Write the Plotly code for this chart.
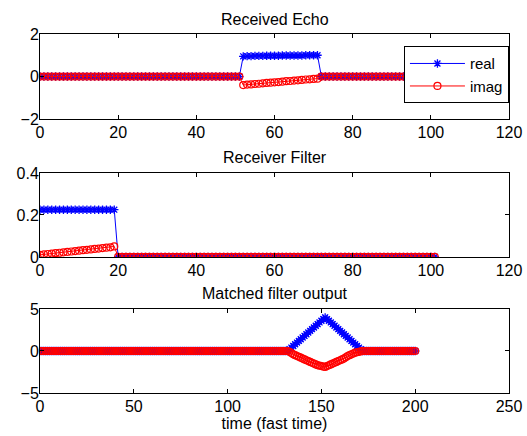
import plotly.graph_objects as go

# ---------------- data ----------------
# Received echo (samples 0..100)
echo_x = list(range(0, 101))
echo_pulse_start = 52
echo_real_pulse = [0.95, 0.96, 0.96, 0.97, 0.97, 0.97, 0.98, 0.98, 0.98, 0.98,
                   0.99, 0.99, 0.99, 0.99, 0.99, 0.99, 1.0, 1.0, 1.0, 1.0]
echo_imag_pulse = [-0.40, -0.38, -0.37, -0.35, -0.34, -0.32, -0.30, -0.29, -0.27, -0.26,
                   -0.24, -0.22, -0.21, -0.19, -0.18, -0.16, -0.14, -0.13, -0.11, -0.10]

# Receiver filter (samples 0..101)
filt_x = list(range(0, 102))
filt_real_pulse = [0.225, 0.225, 0.225, 0.225, 0.225, 0.225, 0.225, 0.225, 0.225, 0.225,
                   0.225, 0.225, 0.225, 0.225, 0.225, 0.225, 0.225, 0.225, 0.225, 0.225]
filt_imag_pulse = [0.010, 0.012, 0.014, 0.016, 0.018, 0.020, 0.022, 0.024, 0.026, 0.028,
                   0.030, 0.032, 0.034, 0.036, 0.038, 0.040, 0.042, 0.044, 0.046, 0.050]

# Matched filter output (samples 0..200)
mf_x = list(range(0, 201))
mf_start = 133
mf_real_part = [0.2, 0.4, 0.6, 0.8, 1.0, 1.2, 1.4, 1.6, 1.8, 2.0,
                2.2, 2.4, 2.6, 2.8, 3.0, 3.2, 3.4, 3.6, 3.8, 4.0,
                3.8, 3.6, 3.4, 3.2, 3.0, 2.8, 2.6, 2.4, 2.2, 2.0,
                1.8, 1.6, 1.4, 1.2, 1.0, 0.8, 0.6, 0.4, 0.2]
mf_imag_part = [-0.1, -0.25, -0.4, -0.5, -0.6, -0.7, -0.8, -0.9, -1.0, -1.1,
                -1.2, -1.3, -1.4, -1.5, -1.6, -1.7, -1.75, -1.8, -1.85, -1.9,
                -1.8, -1.7, -1.6, -1.5, -1.4, -1.3, -1.2, -1.1, -1.0, -0.9,
                -0.75, -0.6, -0.5, -0.4, -0.3, -0.2, -0.15, -0.1, -0.05]


def embed(n, start, part):
    vals = [0.0] * n
    for i, v in enumerate(part):
        vals[start + i] = v
    return vals


echo_real = embed(len(echo_x), echo_pulse_start, echo_real_pulse)
echo_imag = embed(len(echo_x), echo_pulse_start, echo_imag_pulse)
filt_real = embed(len(filt_x), 0, filt_real_pulse)
filt_imag = embed(len(filt_x), 0, filt_imag_pulse)
mf_real = embed(len(mf_x), mf_start, mf_real_part)
mf_imag = embed(len(mf_x), mf_start, mf_imag_part)

BLUE = "#0000ff"
RED = "#ff0000"
FONT = "Liberation Sans, Arial, sans-serif"
FS = 16

fig = go.Figure()


def add_pair(x, re, im, xa, ya, show):
    fig.add_trace(go.Scatter(
        x=x, y=re, mode="lines+markers", name="real", showlegend=show,
        xaxis=xa, yaxis=ya,
        line=dict(color=BLUE, width=1),
        marker=dict(symbol="asterisk-open", size=7, color=BLUE,
                    line=dict(color=BLUE, width=1.3))))
    fig.add_trace(go.Scatter(
        x=x, y=im, mode="lines+markers", name="imag", showlegend=show,
        xaxis=xa, yaxis=ya,
        line=dict(color=RED, width=1),
        marker=dict(symbol="circle-open", size=7, color=RED,
                    line=dict(color=RED, width=1.2))))


add_pair(echo_x, echo_real, echo_imag, "x", "y", True)
add_pair(filt_x, filt_real, filt_imag, "x2", "y2", False)
add_pair(mf_x, mf_real, mf_imag, "x3", "y3", False)

axis_common = dict(
    showline=True, linecolor="black", linewidth=1, mirror="ticks",
    ticks="inside", ticklen=4, tickcolor="black", showgrid=False,
    zeroline=False, automargin=False,
    tickfont=dict(family=FONT, size=FS, color="black"),
)
xcommon = dict(axis_common, ticklabelstandoff=-1)
ycommon = dict(axis_common, ticklabelstandoff=-3)

fig.update_layout(
    width=527, height=436,
    margin=dict(l=40, r=18, t=34, b=43),
    paper_bgcolor="white", plot_bgcolor="white",
    font=dict(family=FONT, size=FS, color="black"),
    xaxis=dict(domain=[0, 1], anchor="y", range=[0, 120], tickvals=[0, 20, 40, 60, 80, 100, 120], **xcommon),
    yaxis=dict(domain=[0.763, 1], anchor="x", range=[-2, 2], tickvals=[-2, 0, 2], **ycommon),
    xaxis2=dict(domain=[0, 1], anchor="y2", range=[0, 120], tickvals=[0, 20, 40, 60, 80, 100, 120], **xcommon),
    yaxis2=dict(domain=[0.379, 0.613], anchor="x2", range=[0, 0.4], tickvals=[0, 0.2, 0.4], **ycommon),
    xaxis3=dict(domain=[0, 1], anchor="y3", range=[0, 250], tickvals=[0, 50, 100, 150, 200, 250],
                title=dict(text="time (fast time)", font=dict(family=FONT, size=FS), standoff=0),
                **xcommon),
    yaxis3=dict(domain=[0, 0.234], anchor="x3", range=[-5, 5], tickvals=[-5, 0, 5], **ycommon),
    legend=dict(x=0.776, y=0.966, xanchor="left", yanchor="top",
                bgcolor="white", bordercolor="black", borderwidth=1,
                font=dict(family=FONT, size=15), tracegroupgap=0, itemwidth=55),
    showlegend=True,
    annotations=[
        dict(text="Received Echo", xref="paper", yref="paper", x=0.5, y=1.0, yshift=15,
             showarrow=False, xanchor="center", yanchor="middle", font=dict(size=FS)),
        dict(text="Receiver Filter", xref="paper", yref="paper", x=0.5, y=0.613, yshift=15,
             showarrow=False, xanchor="center", yanchor="middle", font=dict(size=FS)),
        dict(text="Matched filter output", xref="paper", yref="paper", x=0.5, y=0.234, yshift=15,
             showarrow=False, xanchor="center", yanchor="middle", font=dict(size=FS)),
    ],
)

fig.write_html("out.html", config={"displayModeBar": False},
               post_script="document.body.style.margin='0';")
